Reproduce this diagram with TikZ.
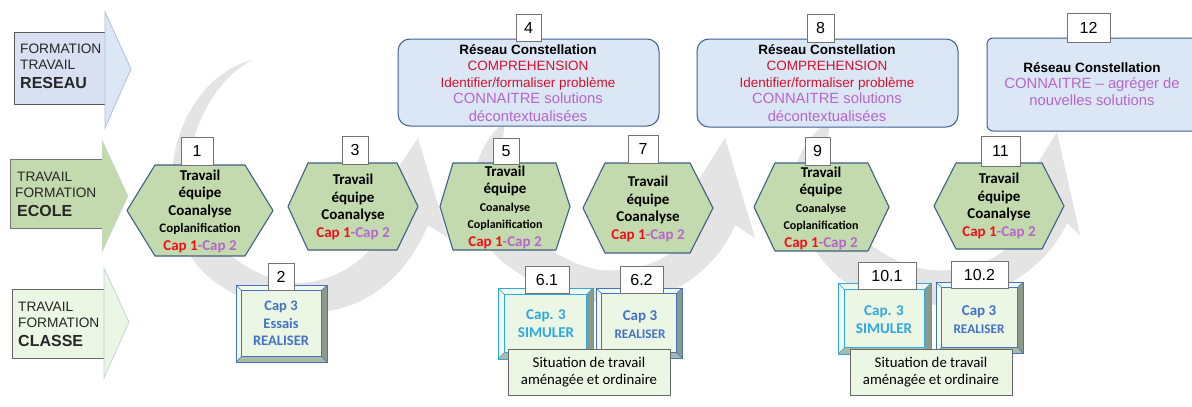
\documentclass[tikz,border=0pt]{standalone}
\usepackage{fontspec}
\setmainfont{Liberation Sans}
\newfontfamily\capfont{Carlito}
\definecolor{hexfill}{HTML}{C3DAAE}
\definecolor{hexline}{HTML}{3F5F86}
\definecolor{netfill}{HTML}{DCE7F5}
\definecolor{sidefill}{HTML}{D8E0F1}
\definecolor{netline}{HTML}{3E5E92}
\definecolor{cred}{HTML}{F0101A}
\definecolor{dred}{HTML}{D5102E}
\definecolor{cpur}{HTML}{B665CC}
\definecolor{cblue}{HTML}{4472C4}
\definecolor{ccyan}{HTML}{2FA8E0}
\definecolor{framefill}{HTML}{EBF6E5}
\definecolor{bevellight}{HTML}{F1F8EC}
\definecolor{beveldark}{HTML}{8C9A8C}
\definecolor{bevelmid}{HTML}{ABBAA8}
\definecolor{crescent}{HTML}{E4E4E4}
\newcommand{\fsz}[2]{\fontsize{#1}{#2}\selectfont}
\newcommand{\capline}{{\color{cred}Cap 1}{\color{cpur}-Cap 2}}
\tikzset{
  numbox/.style={draw=black!55,fill=white,line width=0.9pt,font=\fsz{16}{18},inner sep=0pt,anchor=center},
  hexshape/.style={draw=hexline,fill=hexfill,line width=1.1pt,line join=round},
  hextext/.style={font=\capfont\bfseries\fsz{15}{17.5},align=center,inner sep=0pt},
  nettext/.style={font=\fsz{13.5}{16.5},align=center,inner sep=0pt},
  netbox/.style={draw=netline,fill=netfill,line width=1pt,rounded corners=12pt},
  sitbox/.style={draw=black!60,fill=framefill,line width=0.9pt,font=\capfont\fsz{14.8}{17.5},align=center,inner sep=0pt},
  sidetext/.style={font=\fsz{13.7}{16},align=left,anchor=north west,inner sep=0pt,text=black!85},
  crescentfill/.style={fill=crescent,draw=none},
  frametext/.style={font=\capfont\bfseries\fsz{14.5}{17.5},align=center,inner sep=0pt}
}
% #1 name, #2..#5 xleft xtl xtr xright, #6 ytop, #7 ybot, #8 text x, #9 text y
\newcommand{\hexa}[9]{%
  \path[hexshape] (#2,{(#6+#7)/2}) -- (#3,#6) -- (#4,#6) -- (#5,{(#6+#7)/2}) -- (#4,#7) -- (#3,#7) -- cycle;
  \node[hextext] (#1) at (#8,#9) {\hexbody};}
% #1 name, #2 x0, #3 y0, #4 x1, #5 y1, #6 edge colour, #7 bevel
\newcommand{\bevelframe}[7]{%
  \fill[bevellight] (#2,#3) rectangle (#4,#5);
  \fill[beveldark] (#4,#3) -- (#4,#5) -- ({#4-#7},{#5-#7}) -- ({#4-#7},{#3+#7}) -- cycle;
  \fill[bevelmid] (#2,#5) -- (#4,#5) -- ({#4-#7},{#5-#7}) -- ({#2+#7},{#5-#7}) -- cycle;
  \draw[#6,line width=1pt] (#2,#3) rectangle (#4,#5);
  \draw[#6,line width=0.5pt] (#2,#3) -- ({#2+#7},{#3+#7}) (#4,#3) -- ({#4-#7},{#3+#7}) (#2,#5) -- ({#2+#7},{#5-#7}) (#4,#5) -- ({#4-#7},{#5-#7});
  \draw[#6,fill=framefill,line width=1pt] ({#2+#7},{#3+#7}) rectangle ({#4-#7},{#5-#7});
  \coordinate (#1) at ({(#2+#4)/2},{(#3+#5)/2});}
\newcommand{\numbox}[6]{\node[numbox,minimum width={(#4-#2)*1pt},minimum height={(#5-#3)*1pt}] (#1) at ({(#2+#4)/2},{(#3+#5)/2}) {#6};}
\begin{document}
\begin{tikzpicture}[x=1pt,y=-1pt]
\useasboundingbox (0,0) rectangle (1192,407);
\fill[white] (0,0) rectangle (1192,407);
% background crescents
\path[crescentfill] (252,60) .. controls (205,72) and (172,125) .. (172,180) .. controls (172,215) and (180,240) .. (190,255)
  .. controls (210,290) and (270,318) .. (327,311) .. controls (365,306) and (405,280) .. (428,225) -- (448,238) -- (418,138) -- (364,220) -- (385,226)
  .. controls (372,258) and (335,282) .. (300,283) .. controls (260,283) and (210,250) .. (193,205) .. controls (178,155) and (205,85) .. (252,60) -- cycle;
\path[crescentfill] (505,122) .. controls (480,140) and (468,180) .. (473,212) .. controls (480,245) and (500,262) .. (523,276)
  .. controls (555,297) and (590,305) .. (630,303) .. controls (680,298) and (720,262) .. (735,225) -- (755,238) -- (725,138) -- (672,222) -- (692,226)
  .. controls (680,258) and (640,273) .. (600,270) .. controls (550,262) and (490,215) .. (505,122) -- cycle;
\path[crescentfill] (830,122) .. controls (795,140) and (785,190) .. (800,220) .. controls (812,250) and (825,265) .. (842,280)
  .. controls (875,303) and (915,308) .. (955,303) .. controls (1005,295) and (1050,262) .. (1067,223) -- (1080,235) -- (1057,132) -- (1003,220) -- (1025,224)
  .. controls (1010,258) and (970,273) .. (930,270) .. controls (875,262) and (815,215) .. (830,122) -- cycle;
% left labels
\draw[black!65,fill=sidefill,line width=0.9pt] (14,32) rectangle (105,104);
\fill[netfill,draw=netline!40,line width=0.8pt] (105,12) -- (131,69) -- (105,128) -- cycle;
\node[sidetext] (lab1) at (20,43.5) {FORMATION\\TRAVAIL\\[3.5pt]{\fsz{16}{18}\bfseries RESEAU}};
\draw[black!55,fill=hexfill,line width=0.9pt] (10,159) rectangle (102,228);
\fill[hexfill] (102,140) -- (128,196) -- (102,252) -- cycle;
\draw[netline!25,line width=0.6pt] (102,140) -- (128,196) -- (102,252);
\node[sidetext] (lab2) at (15,171.5) {\hspace{2pt}TRAVAIL\\FORMATION\\[3.5pt]\hspace{2pt}{\fsz{16}{18}\bfseries ECOLE}};
\draw[black!60,fill=framefill,line width=0.9pt] (12,289) rectangle (104,358);
\fill[framefill,draw=netline!30,line width=0.7pt] (104,268) -- (129,322) -- (104,378) -- cycle;
\node[sidetext] (lab3) at (18,301.5) {TRAVAIL\\FORMATION\\[3.5pt]{\fsz{16}{18}\bfseries CLASSE}};
% réseau boxes
\draw[netbox] (398,39) rectangle (659,126);
\node[nettext] (net4) at (528,83) {{\bfseries Réseau Constellation}\\[-0.3pt]{\color{dred}COMPREHENSION}\\{\color{dred}Identifier/formaliser problème}\\{\fsz{14.8}{18}\color{cpur}CONNAITRE solutions}\\[1pt]{\fsz{14.8}{18}\color{cpur}décontextualisées}};
\numbox{n4}{516}{14}{541}{41}{4}
\draw[netbox] (697,39) rectangle (958,127);
\node[nettext] (net8) at (827,83) {{\bfseries Réseau Constellation}\\[-0.3pt]{\color{dred}COMPREHENSION}\\{\color{dred}Identifier/formaliser problème}\\{\fsz{14.8}{18}\color{cpur}CONNAITRE solutions}\\[1pt]{\fsz{14.8}{18}\color{cpur}décontextualisées}};
\numbox{n8}{807}{14}{834}{42}{8}
\draw[netbox,rounded corners=6pt] (987,38) rectangle (1200,131);
\node[nettext] (net12) at (1092,84) {{\bfseries Réseau Constellation}\\{\fsz{14.8}{17.5}\color{cpur}CONNAITRE -- agréger de}\\{\fsz{14.8}{17.5}\color{cpur}nouvelles solutions}};
\numbox{n12}{1067}{13}{1110}{42}{12}
% hexagons
\newcommand{\hexbody}{Travail\\équipe\\Coanalyse\\{\fsz{13}{18.5}Coplanification}\\\capline}
\hexa{h1}{127}{155}{245}{273}{165}{256}{200}{211}
\numbox{n1}{181}{137}{213}{165}{1}
\renewcommand{\hexbody}{Travail\\équipe\\Coanalyse\\\capline}
\hexa{h3}{288}{308}{397}{418}{163}{250}{353}{207}
\numbox{n3}{342}{136}{368}{164}{3}
\renewcommand{\hexbody}{Travail\\équipe\\{\fsz{12}{16}Coanalyse}\\{\fsz{12}{17}Coplanification}\\\capline}
\hexa{h5}{440}{453}{556}{570}{163}{250}{505}{207}
\numbox{n5}{493}{138}{519}{164}{5}
\renewcommand{\hexbody}{Travail\\équipe\\Coanalyse\\\capline}
\hexa{h7}{583}{605}{690}{713}{163}{253}{648}{209}
\numbox{n7}{628}{135}{658}{163}{7}
\renewcommand{\hexbody}{Travail\\équipe\\{\fsz{12}{16}Coanalyse}\\{\fsz{12}{17}Coplanification}\\\capline}
\hexa{h9}{754}{775}{868}{889}{163}{251}{821}{208}
\numbox{n9}{805}{137}{830}{165}{9}
\renewcommand{\hexbody}{Travail\\équipe\\Coanalyse\\\capline}
\hexa{h11}{934}{956}{1042}{1064}{163}{249}{999}{206}
\numbox{n11}{981}{136}{1020}{166}{11}
% bevel frames
\bevelframe{f2}{236}{285}{327}{362}{cblue}{5.5}
\node[frametext,text=cblue] (t2) at (281,323.5) {Cap 3\\Essais\\REALISER};
\numbox{n2}{268}{263}{294}{290}{2}
\bevelframe{f61}{498}{288}{593}{359}{ccyan}{6.5}
\node[frametext,text=ccyan,font=\capfont\bfseries\fsz{15}{17.5}] (t61) at (546,323.5) {Cap. 3\\SIMULER};
\numbox{n61}{525}{266}{569}{293}{6.1}
\bevelframe{f62}{596}{288}{682}{358}{cblue}{5.5}
\node[frametext,text=cblue] (t62) at (640,324.5) {{\fsz{15}{17.5}Cap 3}\\{\fsz{13.2}{17.5}REALISER}};
\numbox{n62}{620}{266}{663}{293}{6.2}
\node[sitbox,minimum width=162pt,minimum height=46pt] (s1) at (589,372) {Situation de travail\\aménagée et ordinaire};
\bevelframe{f101}{838}{283}{931}{354}{ccyan}{6.5}
\node[frametext,text=ccyan,font=\capfont\bfseries\fsz{15}{17.5}] (t101) at (884,319.5) {Cap. 3\\SIMULER};
\numbox{n101}{858}{262}{916}{289}{10.1}
\bevelframe{f102}{936}{282}{1023}{353}{cblue}{5.5}
\node[frametext,text=cblue] (t102) at (979,319.5) {{\fsz{15}{17.5}Cap 3}\\{\fsz{13.2}{17.5}REALISER}};
\numbox{n102}{951}{261}{1008}{288}{10.2}
\node[sitbox,minimum width=162pt,minimum height=46pt] (s2) at (931,372) {Situation de travail\\aménagée et ordinaire};
\end{tikzpicture}
\end{document}
